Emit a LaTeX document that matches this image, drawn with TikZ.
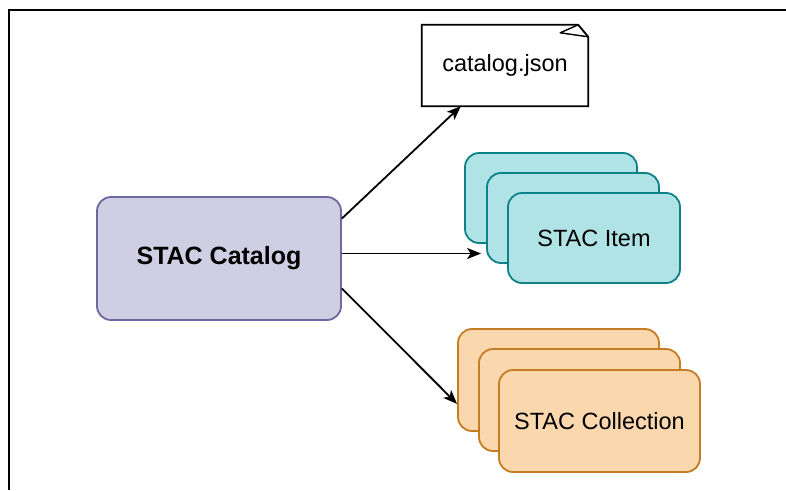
\documentclass[tikz,border=0pt]{standalone}
\usepackage{fontspec}
\setmainfont{Liberation Sans}
\usetikzlibrary{calc, positioning}
\usetikzlibrary{arrows.meta}

\begin{document}
\begin{tikzpicture}[x=1pt,y=-1pt,
  card/.style={draw,rounded corners=14pt,line width=1.8pt,inner sep=0pt},
  label/.style={font=\fontsize{23.5}{28}\selectfont},
  link/.style={line width=1.8pt,-{Stealth[length=14pt,width=11pt,inset=3.5pt]}}]
\definecolor{catfill}{HTML}{D0CEE2}
\definecolor{catline}{HTML}{6E67A0}
\definecolor{itemfill}{HTML}{B0E3E6}
\definecolor{itemline}{HTML}{0E8088}
\definecolor{collfill}{HTML}{FAD7AC}
\definecolor{collline}{HTML}{C47D22}
\useasboundingbox (0,0) rectangle (786,490);
\draw[line width=1.6pt] (9,490) -- (9,10) -- (786,10);

\node[card,fill=catfill,draw=catline,minimum width=244pt,minimum height=123pt,
  font=\bfseries\fontsize{25}{30}\selectfont] (catalog) at (219,258.5) {STAC Catalog};

% note with folded corner
\node[label,minimum width=166pt,minimum height=81pt,inner sep=0pt] (json) at (505,65.5) {catalog.json};
\draw[line width=1.8pt] (json.south west) |- ($(json.north east)+(-10,0)$)
  -- ($(json.north east)+(0,12)$) -- (json.south east) -- cycle;
\draw[line width=1.4pt,line join=round] ($(json.north east)+(-10,0)$) -- ($(json.north east)+(-28,8)$)
  -- ($(json.north east)+(0,12)$);

\foreach \i/\x/\y in {1/551/198,2/573/218}{
  \node[card,fill=itemfill,draw=itemline,minimum width=172pt,minimum height=90pt] (item\i) at (\x,\y) {};
}
\node[card,label,fill=itemfill,draw=itemline,minimum width=172pt,minimum height=90pt] (item3) at (594,238) {STAC Item};

\foreach \i/\x/\y in {1/558.5/380,2/579.5/400}{
  \node[card,fill=collfill,draw=collline,minimum width=201pt,minimum height=102pt] (coll\i) at (\x,\y) {};
}
\node[card,label,fill=collfill,draw=collline,minimum width=201pt,minimum height=102pt] (coll3) at (599.5,421) {STAC Collection};

\coordinate (midstart) at ($(catalog.east)+(0,-5)$);
\draw[link] ($(catalog.east)+(0,-40)$) -- ($(json.south west)+(39,0)$);
\draw[link] (midstart) -- ([xshift=-5pt]item2.west |- midstart);
\draw[link] ($(catalog.east)+(0,30)$) -- ($(coll1.south west)+(0,-28)$);
\end{tikzpicture}
\end{document}
